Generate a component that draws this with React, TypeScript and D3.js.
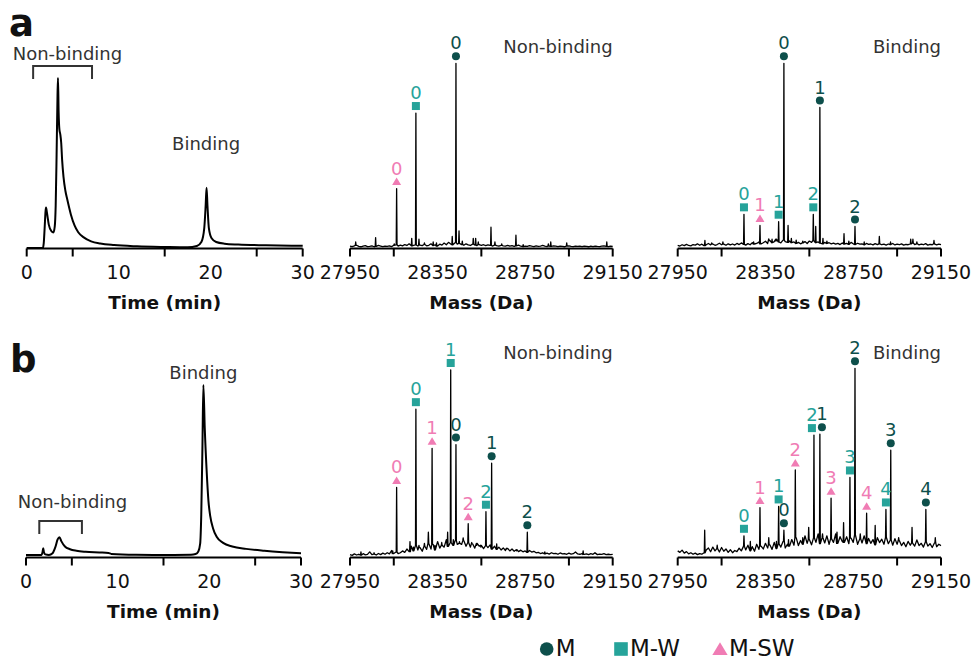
import React from "react";
import * as d3 from "d3";

const W = 972;
const H = 663;
const FONT = "'DejaVu Sans', sans-serif";
const COLORS: Record<string, string> = { M: "#0d4f4b", MW: "#26a39a", MSW: "#f07cb4" };

// chromatograms: [time (min), signal (% of tallest peak)]
const chromA = [
  [0, 0.3], [1.75, 0.3], [1.85, 3], [1.95, 12], [2.05, 22], [2.1, 24], [2.2, 21], [2.4, 14],
  [2.7, 10], [2.9, 9.4], [3.05, 13], [3.15, 25], [3.25, 55], [3.35, 90], [3.4, 100], [3.47, 80],
  [3.55, 70], [3.65, 67], [3.75, 62], [3.85, 52], [4.0, 42], [4.2, 34], [4.4, 29], [4.8, 20],
  [5.2, 13.5], [5.6, 9.5], [6.2, 6.5], [7, 4.2], [8, 2.9], [9.5, 2], [12, 1.3], [15, 0.9],
  [17.5, 0.7], [18.5, 1.5], [19, 4], [19.3, 12], [19.45, 25], [19.55, 35.7], [19.65, 25],
  [19.8, 12], [20.1, 6], [20.6, 3.8], [21.5, 2.8], [23, 2.3], [26, 1.9], [30, 1.6],
];
const chromB = [
  [0, 1.5], [1.7, 1.5], [1.8, 3], [1.88, 5.4], [1.96, 3], [2.1, 1.8], [2.5, 1.5], [2.9, 2.5],
  [3.2, 6], [3.45, 10.5], [3.65, 11.8], [3.85, 9.5], [4.25, 6.4], [4.8, 4.8], [5.5, 3.9],
  [6.5, 3.3], [8, 2.9], [9, 2.6], [9.3, 2.1], [12, 1.6], [15, 1.5], [18, 1.6], [18.5, 2],
  [18.8, 3.5], [19, 8], [19.12, 25], [19.25, 65], [19.35, 100], [19.5, 75], [19.7, 51],
  [19.9, 33], [20.1, 24], [20.4, 17], [20.8, 12], [21.5, 8.5], [22.5, 6.4], [24, 5], [26, 3.9],
  [28, 3.1], [30, 2.5],
];
// collected fraction (min) and where its caption sits (min)
const fractionA = [0.7, 7.1];
const fractionB = [1.45, 6.1];
const nonLabelTimeA = 4.43;
const nonLabelTimeB = 5.07;
const bindingTimeA = 19.5;
const bindingTimeB = 19.35;

const timeTicks = [0, 5, 10, 15, 20, 25, 30];
const timeLabels = [0, 10, 20, 30];
const massTicks = [27950, 28150, 28350, 28550, 28750, 28950, 29150];
const massLabels = [27950, 28350, 28750, 29150];
const massStart = 27950;
const massStep = 10;

// baseline noise, one value every 10 Da from 27950 Da (% of tallest peak)
const aNonNoise = [
  0.8, 0.5, 0.9, 1.2, 0.6, 0.4, 0.7, 1.0, 0.5, 0.6, 0.9, 0.4, 0.6, 1.1, 0.8, 0.5, 0.7, 0.6, 0.9, 0.5, 1.2,
  1.5, 0.8, 1.3, 0.9, 1.6, 1.1, 2.0, 0.9, 1.2, 1.4, 0.8, 1.3, 1.0, 1.6, 0.9, 1.2, 2.0, 1.1, 1.4, 0.8,
  1.8, 1.3, 2.4, 1.5, 2.8, 1.9, 1.5, 2.6, 1.8, 2.2,
  1.6, 1.2, 2.0, 1.4, 1.1, 1.8, 1.3, 1.0, 1.6, 1.2, 1.5, 1.0, 1.4, 1.1, 0.8, 1.3, 1.0, 0.7, 1.1, 0.9,
  0.8, 1.2, 0.7, 1.0, 0.6, 0.9, 1.3, 0.7, 0.5, 0.8, 0.6, 1.0, 0.7, 0.5, 0.9, 0.6, 0.8, 1.1, 0.7, 0.5,
  0.8, 0.6, 0.9, 0.7, 0.5, 0.8, 0.6, 0.4, 0.7, 0.9, 0.6, 0.5, 0.8, 0.6, 0.7, 0.5, 0.8, 0.6, 0.4, 0.7,
  0.5, 0.8, 0.6, 0.5, 0.7, 0.9, 0.6, 0.5, 0.7, 0.6,
];
const aBindNoise = [
  1.2, 0.8, 1.5, 1.0, 1.7, 1.1, 0.9, 1.6, 1.3, 2.0, 1.2, 1.8, 1.0, 1.5, 2.2, 1.4, 1.9, 1.2, 1.6, 2.3, 1.5,
  1.8, 1.2, 2.0, 1.4, 1.9, 1.3, 2.2, 1.6, 2.5, 1.7, 1.3, 2.1, 1.5, 2.6, 1.9, 2.2, 3.0, 2.0, 2.6, 3.4,
  2.2, 3.8, 2.6, 3.2, 4.5, 3.0, 2.5, 4.0, 3.2, 2.8,
  3.5, 2.6, 3.0, 2.2, 2.8, 2.0, 2.5, 3.2, 2.2, 3.5, 2.8, 3.8, 2.6, 3.0, 2.4, 2.0, 2.8, 2.2, 2.6, 2.0,
  2.4, 1.8, 2.2, 1.6, 2.5, 1.9, 2.2, 1.7, 2.8, 2.0, 1.6, 2.3, 1.8, 2.0, 1.5, 2.2, 1.7, 1.9, 1.4, 2.1,
  1.6, 2.0, 1.5, 1.8, 1.3, 1.9, 1.6, 2.2, 1.4, 1.8, 1.5, 2.0, 1.3, 1.7, 1.5, 1.9, 2.4, 1.6, 2.0, 1.4,
  1.8, 1.5, 2.1, 1.3, 1.7, 1.5, 2.0, 1.4, 1.8, 1.5,
];
const bNonNoise = [
  1.0, 0.6, 1.4, 0.8, 1.2, 0.7, 1.5, 0.9, 1.1, 2.5, 1.0, 1.3, 0.8, 1.6, 1.0, 1.8,
  1.2, 2.0, 1.4, 3.2, 1.6, 2.4, 1.5, 2.0, 3.0, 2.2,
  4.0, 2.6, 5.5, 3.0, 6.0, 3.5, 4.8, 2.8, 5.5, 3.8, 7.0, 4.0, 6.5, 3.5, 8.0, 4.5, 6.0, 5.0, 9.0, 5.5,
  7.5, 6.0, 8.5, 6.5, 7.0,
  6.5, 8.5, 5.5, 7.5, 5.0, 6.8, 4.5, 7.0, 5.5, 6.0, 4.2, 5.8, 4.8, 6.2, 4.0, 5.5, 3.8, 5.0, 3.5, 4.6,
  3.2, 4.4, 3.0, 4.0, 2.8, 3.6, 2.6, 3.4, 2.5, 3.0, 2.2, 3.2, 2.4, 2.8, 2.0,
  2.2, 1.6, 2.0, 1.4, 1.8, 1.3, 2.0, 1.5, 1.7, 1.2, 1.9, 1.4, 1.6, 1.2, 1.8, 1.3, 1.5, 2.4, 1.4, 1.2,
  1.6, 1.1, 1.4, 1.0, 1.5, 1.2, 1.8, 1.0, 1.3, 1.1, 1.5, 1.0, 1.2, 1.0, 1.1,
];
const bBindNoise = [
  3.0, 2.2, 3.4, 1.8, 2.6, 1.4, 2.0, 1.2, 1.8, 1.0, 1.5, 1.2, 2.0,
  3.5, 4.5, 2.5, 5.0, 3.0, 4.2, 2.4, 4.8, 2.8, 4.0, 2.2, 3.6, 2.0, 3.2, 2.6, 4.4, 3.0, 5.5,
  3.5, 6.0, 3.0, 5.2, 2.8, 6.5, 3.8, 5.5, 4.0, 7.0, 4.5, 6.2, 3.8, 7.5, 4.2, 6.8, 5.0, 8.0, 4.5, 6.5,
  5.5, 9.0, 6.0, 10.0, 5.8, 8.5, 6.5, 11.0, 7.0, 9.0, 6.2, 10.0, 7.5, 12.0, 6.8, 10.0, 7.2, 11.0, 6.5,
  9.5, 7.5, 12.0, 7.0, 10.5, 8.0,
  7.5, 10.5, 6.8, 9.8, 7.5, 11.5, 6.5, 9.5, 7.2, 11.0, 6.8, 9.6, 7.0, 9.0, 6.2, 10.0, 7.4, 9.2, 6.5,
  10.2, 6.8, 8.8, 6.0, 9.5, 6.5,
  8.5, 5.8, 7.5, 5.2, 8.0, 6.0, 7.2, 5.5, 8.8, 5.8, 7.0, 5.0, 7.8, 5.5, 6.8, 4.8, 7.2, 5.2, 6.5, 5.8,
];

// peaks: [mass (Da), intensity (% of tallest)]
const aNonPeaks = [
  [27976, 3], [28067, 5.4], [28152, 2], [28163, 32], [28232, 5], [28251, 73], [28265, 4.5],
  [28290, 2.5], [28330, 3], [28345, 2.5], [28417, 6], [28434, 100], [28448, 9], [28463, 3.5],
  [28513, 5], [28524, 5], [28536, 3], [28594, 11], [28612, 3], [28643, 2], [28708, 6.7],
  [28741, 1.5], [28856, 2], [28867, 3], [28940, 2.5], [29123, 3],
];
const aBindPeaks = [
  [28074, 3.8], [28105, 2.5], [28156, 3], [28252, 18], [28296, 3], [28325, 12], [28365, 4.7],
  [28380, 4.5], [28398, 3.5], [28410, 14], [28434, 100], [28453, 12], [28468, 5], [28490, 4],
  [28520, 3.5], [28568, 18], [28579, 11.4], [28598, 76], [28612, 5], [28630, 3.5], [28708, 7.5],
  [28730, 3.5], [28758, 11.4], [28800, 3], [28869, 6], [28920, 3], [29012, 4.5], [29022, 4.5],
  [29040, 3], [29118, 3.8],
];
const bNonPeaks = [
  [28000, 2.5], [28060, 2], [28145, 3], [28163, 37], [28224, 8], [28240, 5], [28251, 79],
  [28265, 6], [28290, 7], [28308, 13], [28325, 58], [28338, 6], [28369, 7.5], [28396, 13],
  [28410, 100], [28422, 9], [28434, 60], [28450, 8], [28467, 10], [28490, 17.6], [28506, 7.5],
  [28529, 6], [28548, 5], [28571, 24], [28597, 50], [28620, 6.8], [28666, 4], [28711, 3],
  [28760, 13], [28840, 2.5], [29015, 3], [29069, 2],
];
const bBindPeaks = [
  [28073, 14], [28130, 6], [28252, 11], [28281, 8], [28325, 26], [28365, 10], [28400, 8],
  [28410, 26.6], [28434, 14], [28455, 9], [28486, 46], [28520, 10], [28547, 15.5], [28571, 64.5],
  [28598, 65], [28610, 12], [28649, 31], [28676, 13], [28706, 18], [28735, 42], [28758, 100],
  [28782, 12], [28811, 23], [28850, 16.5], [28899, 25], [28921, 56.5], [28957, 10], [29018, 15.5],
  [29081, 25], [29124, 10],
];

// assigned species: [species, number of adducts, mass]
const aNonMarks = [["MSW", 0, 28163], ["MW", 0, 28251], ["M", 0, 28434]];
const aBindMarks = [
  ["MW", 0, 28252], ["MSW", 1, 28325], ["MW", 1, 28410], ["M", 0, 28434], ["MW", 2, 28568],
  ["M", 1, 28598], ["M", 2, 28758],
];
const bNonMarks = [
  ["MSW", 0, 28163], ["MW", 0, 28251], ["MSW", 1, 28325], ["MW", 1, 28410], ["M", 0, 28434],
  ["MSW", 2, 28490], ["MW", 2, 28571], ["M", 1, 28597], ["M", 2, 28760],
];
const bBindMarks = [
  ["MW", 0, 28252], ["MSW", 1, 28325], ["MW", 1, 28410], ["M", 0, 28434], ["MSW", 2, 28486],
  ["MW", 2, 28571], ["M", 1, 28598], ["MSW", 3, 28649], ["MW", 3, 28735], ["M", 2, 28758],
  ["MSW", 4, 28811], ["MW", 4, 28899], ["M", 3, 28921], ["M", 4, 29081],
];

const legendItems = [["M", "M"], ["MW", "M-W"], ["MSW", "M-SW"]];

function XAxis({ scale, ticks, labels, y, title }: any) {
  const [r0, r1] = scale.range();
  const first = ticks[0];
  const last = ticks[ticks.length - 1];
  const inner = new Set(labels.filter((v: number) => v !== first && v !== last));
  return (
    <g>
      <line x1={r0} x2={r1} y1={y} y2={y} stroke="#000" strokeWidth={2} />
      {ticks
        .filter((t: number) => !inner.has(t))
        .map((t: number) => (
          <line key={t} x1={scale(t)} x2={scale(t)} y1={y} y2={y + 8} stroke="#000" strokeWidth={2} />
        ))}
      {labels.map((l: number) => (
        <text key={l} x={scale(l)} y={y + 30} textAnchor="middle" fontSize={19} fill="#111">
          {l}
        </text>
      ))}
      <text x={(r0 + r1) / 2} y={y + 60} textAnchor="middle" fontSize={18.5} fontWeight="bold" fill="#111">
        {title}
      </text>
    </g>
  );
}

function Marker({ kind, cx, cy, s = 1 }: any) {
  const c = COLORS[kind];
  if (kind === "M") return <circle cx={cx} cy={cy} r={4 * s} fill={c} />;
  if (kind === "MW") return <rect x={cx - 4 * s} y={cy - 4 * s} width={8 * s} height={8 * s} fill={c} />;
  return (
    <polygon
      points={`${cx},${cy - 4 * s} ${cx - 4.5 * s},${cy + 3.5 * s} ${cx + 4.5 * s},${cy + 3.5 * s}`}
      fill={c}
    />
  );
}

function Chromatogram({ data, x0, x1, axisY, topY, fraction, nonT, bindT, bindY, nonY, bracketY }: any) {
  const x = d3.scaleLinear().domain([0, 30]).range([x0, x1]);
  const y = d3.scaleLinear().domain([0, 100]).range([axisY, topY]);
  const line = d3
    .line<number[]>()
    .x((d) => x(d[0]))
    .y((d) => y(d[1]))
    .curve(d3.curveMonotoneX);
  const bx0 = x(fraction[0]);
  const bx1 = x(fraction[1]);
  return (
    <g>
      <path d={line(data) || ""} fill="none" stroke="#000" strokeWidth={2} strokeLinejoin="round" />
      <path
        d={`M${bx0},${bracketY + 13}V${bracketY}H${bx1}V${bracketY + 13}`}
        fill="none"
        stroke="#333"
        strokeWidth={2}
      />
      <text x={x(nonT)} y={nonY} textAnchor="middle" fontSize={18} fill="#333">
        Non-binding
      </text>
      <text x={x(bindT)} y={bindY} textAnchor="middle" fontSize={18} fill="#333">
        Binding
      </text>
      <XAxis scale={x} ticks={timeTicks} labels={timeLabels} y={axisY} title="Time (min)" />
    </g>
  );
}

function Spectrum({ noise, peaks, marks, x0, x1, axisY, topY, label, labelY }: any) {
  const x = d3.scaleLinear().domain([27950, 29150]).range([x0, x1]);
  const y = d3.scaleLinear().domain([0, 100]).range([axisY - 1, topY]);
  const pts: number[][] = [];
  noise.forEach((v: number, i: number) => {
    const m = massStart + i * massStep;
    if (!peaks.some((p: number[]) => Math.abs(p[0] - m) < 2.5)) pts.push([m, v]);
  });
  peaks.forEach(([m, h]: number[]) => {
    const j = Math.max(0, Math.min(noise.length - 1, Math.round((m - massStart) / massStep)));
    pts.push([m - 1.8, noise[j]], [m, h], [m + 1.8, noise[j]]);
  });
  pts.sort((a, b) => a[0] - b[0]);
  const line = d3
    .line<number[]>()
    .x((d) => x(d[0]))
    .y((d) => y(d[1]));

  // marker layout, nudging neighbours that sit too close together
  const items = marks.map(([kind, n, m]: any) => {
    const pk = peaks.find((p: number[]) => p[0] === m);
    return { kind, n, cx: x(m), top: y(pk ? pk[1] : 0) };
  });
  const sorted = [...items].sort((a: any, b: any) => a.cx - b.cx);
  for (let i = 1; i < sorted.length; i++) {
    const a = sorted[i - 1];
    const b = sorted[i];
    const gap = b.cx - a.cx;
    if (gap < 10 && Math.abs(a.top - b.top) < 18) {
      const push = (10 - gap) / 2;
      a.cx -= push;
      b.cx += push;
    }
  }

  return (
    <g>
      <path d={line(pts) || ""} fill="none" stroke="#000" strokeWidth={1.3} strokeLinejoin="round" />
      {items.map((it: any, i: number) => (
        <g key={i}>
          <Marker kind={it.kind} cx={it.cx} cy={it.top - 7} />
          <text x={it.cx} y={it.top - 14} textAnchor="middle" fontSize={18} fill={COLORS[it.kind]}>
            {it.n}
          </text>
        </g>
      ))}
      <text x={x1} y={labelY} textAnchor="end" fontSize={18} fill="#333">
        {label}
      </text>
      <XAxis scale={x} ticks={massTicks} labels={massLabels} y={axisY} title="Mass (Da)" />
    </g>
  );
}

export default function App() {
  const aY = 248.5;
  const bY = 557.5;
  return (
    <svg
      width={W}
      height={H}
      viewBox={`0 0 ${W} ${H}`}
      style={{ position: "absolute", left: 0, top: 0, background: "#fff" }}
      fontFamily={FONT}
    >
      <rect width={W} height={H} fill="#fff" />
      <text x={9} y={36} fontSize={37} fontWeight="bold" fill="#111">a</text>
      <text x={10} y={372} fontSize={37} fontWeight="bold" fill="#111">b</text>

      <Chromatogram data={chromA} x0={26.7} x1={302.7} axisY={aY} topY={78} fraction={fractionA}
        nonT={nonLabelTimeA} bindT={bindingTimeA} bindY={150} nonY={60} bracketY={66} />
      <Chromatogram data={chromB} x0={26} x1={301} axisY={bY} topY={385} fraction={fractionB}
        nonT={nonLabelTimeB} bindT={bindingTimeB} bindY={379} nonY={508} bracketY={521} />

      <Spectrum noise={aNonNoise} peaks={aNonPeaks} marks={aNonMarks} x0={350} x1={612.7}
        axisY={aY} topY={63.3} label="Non-binding" labelY={53} />
      <Spectrum noise={aBindNoise} peaks={aBindPeaks} marks={aBindMarks} x0={677.7} x1={941}
        axisY={aY} topY={63.3} label="Binding" labelY={53} />
      <Spectrum noise={bNonNoise} peaks={bNonPeaks} marks={bNonMarks} x0={350} x1={612.7}
        axisY={bY} topY={370} label="Non-binding" labelY={359} />
      <Spectrum noise={bBindNoise} peaks={bBindPeaks} marks={bBindMarks} x0={677.7} x1={941}
        axisY={bY} topY={368.3} label="Binding" labelY={359} />

      <g>
        {legendItems.map(([kind, name], i) => {
          const lx = [546.7, 621, 720][i];
          return (
            <g key={kind}>
              <Marker kind={kind} cx={lx} cy={649} s={1.7} />
              <text x={lx + 9} y={656} fontSize={23} fill="#111">{name}</text>
            </g>
          );
        })}
      </g>
    </svg>
  );
}
